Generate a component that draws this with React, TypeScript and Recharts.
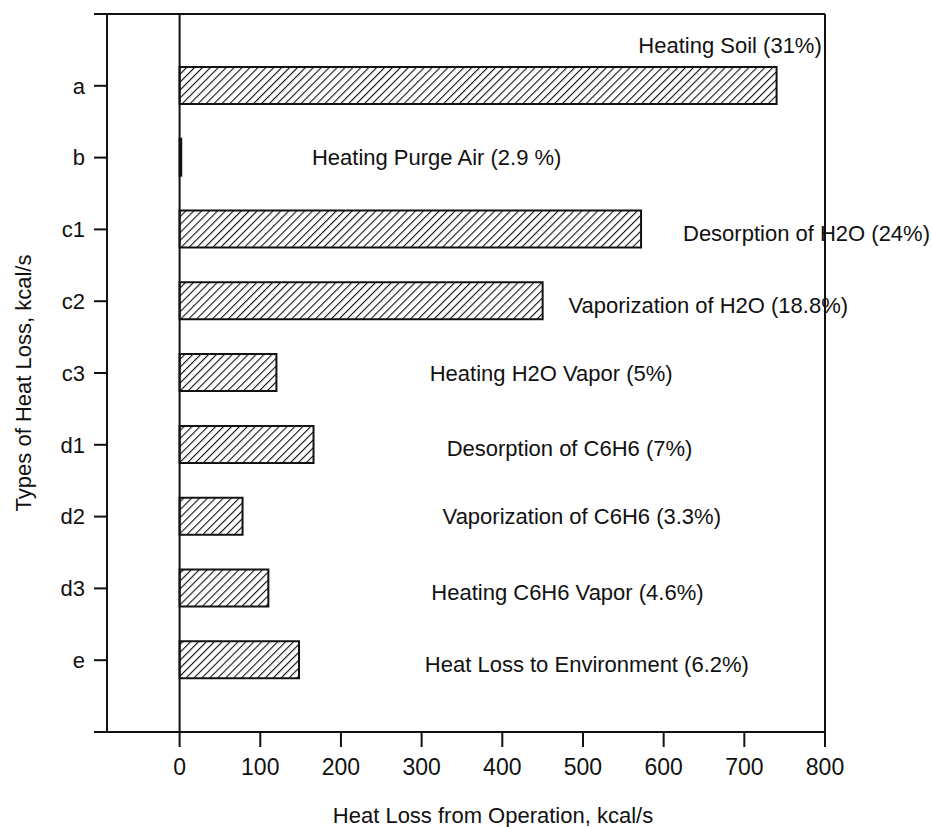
import React from "react";
import {
  BarChart,
  Bar,
  XAxis,
  YAxis,
  ReferenceLine,
  ReferenceDot,
  Label,
} from "recharts";

// category codes, top to bottom (placed at 1..9 on the y scale)
const codes = ["a", "b", "c1", "c2", "c3", "d1", "d2", "d3", "e"];
// heat loss, kcal/s
const heatLoss = [740, 2, 572, 450, 120, 166, 78, 110, 148];
const notes = [
  "Heating Soil (31%)",
  "Heating Purge Air (2.9 %)",
  "Desorption of H2O (24%)",
  "Vaporization of H2O (18.8%)",
  "Heating H2O Vapor (5%)",
  "Desorption of C6H6 (7%)",
  "Vaporization of C6H6 (3.3%)",
  "Heating C6H6 Vapor (4.6%)",
  "Heat Loss to Environment (6.2%)",
];
// where each note sits, in axis units (x: kcal/s, y: row)
const noteX = [796, 164, 624, 482, 310, 331, 326, 312, 304];
const noteY = [0.43, 2, 3.05, 4.05, 5, 6.05, 7, 8.05, 9.05];

const xTicks = [0, 100, 200, 300, 400, 500, 600, 700, 800];
const yTicks = [0, 1, 2, 3, 4, 5, 6, 7, 8, 9, 10];

const data = codes.map((code, i) => ({ code, pos: i + 1, value: heatLoss[i] }));

const font = "'Liberation Sans', Arial, sans-serif";
const ink = "#111";
const fs = 22;

const XTitle = ({ viewBox }: any) => (
  <text
    x={viewBox.x + viewBox.width / 2 + 27}
    y={viewBox.y + 91}
    textAnchor='middle'
    fontFamily={font}
    fontSize={fs}
    fill={ink}
  >
    Heat Loss from Operation, kcal/s
  </text>
);

export default function App() {
  return (
    <div style={{ position: "absolute", left: 0, top: 0, background: "#fff" }}>
      <BarChart
        width={932}
        height={827}
        data={data}
        layout='vertical'
        margin={{ top: 14, right: 107, bottom: 0, left: 0 }}
        style={{ fontFamily: font }}
      >
        <defs>
          <pattern
            id='hatch'
            patternUnits='userSpaceOnUse'
            width={5.6}
            height={5.6}
            patternTransform='rotate(45)'
          >
            <rect width={5.6} height={5.6} fill='#fff' />
            <line x1={0} y1={0} x2={0} y2={5.6} stroke={ink} strokeWidth={2.2} />
          </pattern>
        </defs>
        <XAxis
          type='number'
          dataKey='value'
          domain={[-90, 800]}
          ticks={xTicks}
          allowDataOverflow
          height={95}
          tickSize={15}
          tickMargin={12}
          axisLine={{ stroke: ink, strokeWidth: 2 }}
          tickLine={{ stroke: ink, strokeWidth: 2 }}
          tick={{ fill: ink, fontSize: 23, fontFamily: font }}
        >
          <Label content={<XTitle />} />
        </XAxis>
        <YAxis
          type='number'
          dataKey='pos'
          domain={[0, 10]}
          ticks={yTicks}
          width={107}
          tickSize={13}
          tickMargin={9}
          tickFormatter={(v: number) => codes[v - 1] ?? ""}
          axisLine={{ stroke: ink, strokeWidth: 2 }}
          tickLine={{ stroke: ink, strokeWidth: 2 }}
          tick={{ fill: ink, fontSize: fs, fontFamily: font }}
          label={{
            value: "Types of Heat Loss, kcal/s",
            angle: -90,
            position: "insideLeft",
            offset: 23,
            dy: 10,
            fill: ink,
            fontSize: fs,
            style: { textAnchor: "middle", fontFamily: font },
          }}
        />
        <ReferenceLine y={0} stroke={ink} strokeWidth={2} />
        <ReferenceLine x={800} stroke={ink} strokeWidth={2} />
        <ReferenceLine x={0} stroke={ink} strokeWidth={2} />
        <Bar
          dataKey='value'
          barSize={37}
          fill='url(#hatch)'
          stroke={ink}
          strokeWidth={2}
          isAnimationActive={false}
        />
        {notes.map((n, i) => (
          <ReferenceDot
            key={n}
            x={noteX[i]}
            y={noteY[i]}
            r={0}
            stroke='none'
            ifOverflow='visible'
            label={{
              value: n,
              position: i === 0 ? "left" : "right",
              offset: 0,
              fill: ink,
              fontSize: fs,
              fontFamily: font,
            }}
          />
        ))}
      </BarChart>
    </div>
  );
}
